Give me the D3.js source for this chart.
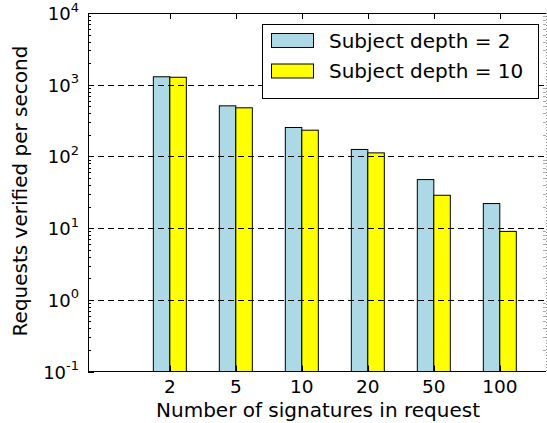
<!DOCTYPE html>
<html>
<head>
<meta charset="utf-8">
<script src="https://cdn.jsdelivr.net/npm/d3@7"></script>
<style>
  html, body { margin: 0; padding: 0; background: #fff; }
  svg { display: block; font-family: "DejaVu Sans", sans-serif; }
</style>
</head>
<body>
<svg id="chart" width="547" height="423"></svg>
<script>
// Verification throughput by number of signatures per request
const categories = ["2", "5", "10", "20", "50", "100"];
const seriesNames = ["Subject depth = 2", "Subject depth = 10"];
const depth2 = [1290, 507, 253, 125, 47.5, 22];
const depth10 = [1270, 476, 232, 112, 28.7, 9.0];
const yTickExponents = [-1, 0, 1, 2, 3, 4];
const colors = ["#add8e6", "#ffff00"];

const svg = d3.select("#chart");
const plot = { left: 88, right: 546, top: 13, bottom: 371.5 };

// Category index axis with extra room to the left of the first group
const x = d3.scaleLinear().domain([-1.24, 5.7]).range([plot.left, plot.right]);
const y = d3.scaleLog().domain([0.1, 1e4]).range([plot.bottom, plot.top]);
const barW = x(0.25) - x(0);

const series = [depth2, depth10];

// Bars: depth 2 left of the category centre, depth 10 right of it
const g = svg.append("g");
series.forEach((vals, si) => {
  g.selectAll(null).data(vals).enter().append("rect")
    .attr("x", (d, i) => si === 0 ? x(i) - barW : x(i))
    .attr("y", d => y(d))
    .attr("width", barW)
    .attr("height", d => plot.bottom - y(d))
    .attr("fill", colors[si])
    .attr("stroke", "#000")
    .attr("stroke-width", 1);
});

// Dashed grid lines at each decade, drawn above the bars
const grid = svg.append("g");
yTickExponents.slice(1, -1).forEach(e => {
  const yy = Math.round(y(Math.pow(10, e))) + 0.5;
  grid.append("line")
    .attr("x1", plot.left).attr("x2", plot.right)
    .attr("y1", yy).attr("y2", yy)
    .attr("stroke", "#000").attr("stroke-width", 1)
    .attr("stroke-dasharray", "6,4");
});

// Frame
svg.append("line").attr("x1", plot.left + 0.5).attr("x2", plot.left + 0.5)
  .attr("y1", plot.top).attr("y2", plot.bottom).attr("stroke", "#000");
svg.append("line").attr("x1", plot.left).attr("x2", plot.right)
  .attr("y1", plot.top + 0.5).attr("y2", plot.top + 0.5).attr("stroke", "#000");
svg.append("line").attr("x1", plot.left).attr("x2", plot.right)
  .attr("y1", plot.bottom).attr("y2", plot.bottom).attr("stroke", "#000");
svg.append("line").attr("x1", plot.right + 0.5).attr("x2", plot.right + 0.5)
  .attr("y1", plot.top).attr("y2", plot.bottom)
  .attr("stroke", "#999").attr("stroke-dasharray", "1,2");

// Minor ticks on left and right spines
const ticksG = svg.append("g").attr("stroke", "#000").attr("stroke-width", 1);
for (let e = -1; e < 4; e++) {
  for (let m = 2; m <= 9; m++) {
    const yy = Math.round(y(m * Math.pow(10, e))) + 0.5;
    ticksG.append("line").attr("x1", plot.left).attr("x2", plot.left + 3)
      .attr("y1", yy).attr("y2", yy);
    ticksG.append("line").attr("x1", plot.right).attr("x2", plot.right - 3)
      .attr("y1", yy).attr("y2", yy).attr("stroke", "#aaa");
  }
  const ym = Math.round(y(Math.pow(10, e))) + 0.5;
  ticksG.append("line").attr("x1", plot.left).attr("x2", plot.left + 6)
    .attr("y1", ym).attr("y2", ym);
}
// Category ticks on top and bottom spines
categories.forEach((c, i) => {
  const xx = Math.round(x(i)) + 0.5;
  ticksG.append("line").attr("x1", xx).attr("x2", xx)
    .attr("y1", plot.top).attr("y2", plot.top + 6);
  ticksG.append("line").attr("x1", xx).attr("x2", xx)
    .attr("y1", plot.bottom).attr("y2", plot.bottom - 6);
});

// Y tick labels as powers of ten
yTickExponents.forEach(e => {
  const t = svg.append("text")
    .attr("x", 79).attr("y", y(Math.pow(10, e)) + 7)
    .attr("text-anchor", "end")
    .attr("font-size", 18).attr("fill", "#000");
  t.append("tspan").text("10");
  t.append("tspan").attr("dy", -8.5).attr("font-size", 13).text(String(e));
});

// X tick labels
categories.forEach((c, i) => {
  svg.append("text")
    .attr("x", x(i)).attr("y", 392.7)
    .attr("text-anchor", "middle")
    .attr("font-size", 18.5).attr("fill", "#000")
    .text(c);
});

// Axis titles
svg.append("text")
  .attr("x", 318).attr("y", 416.5)
  .attr("text-anchor", "middle").attr("font-size", 20)
  .text("Number of signatures in request");
svg.append("text")
  .attr("transform", "translate(27,191) rotate(-90)")
  .attr("text-anchor", "middle").attr("font-size", 20)
  .text("Requests verified per second");

// Legend
const lg = svg.append("g");
lg.append("rect").attr("x", 262.5).attr("y", 24.5).attr("width", 276).attr("height", 74)
  .attr("fill", "#fff").attr("stroke", "#000");
seriesNames.forEach((name, i) => {
  const yy = 33 + i * 30.5;
  lg.append("rect").attr("x", 271.5).attr("y", yy + 0.5).attr("width", 42).attr("height", 14)
    .attr("fill", colors[i]).attr("stroke", "#000");
  lg.append("text").attr("x", 329).attr("y", yy + 14.5)
    .attr("font-size", 20).text(name);
});
</script>
</body>
</html>
